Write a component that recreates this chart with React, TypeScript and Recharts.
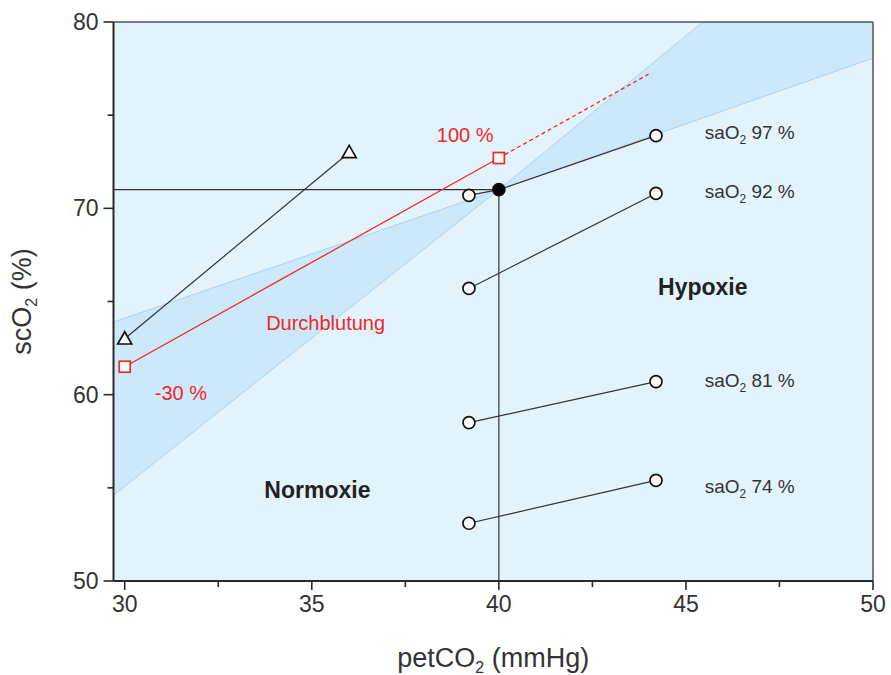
import React from 'react';
import {
  ComposedChart, XAxis, YAxis, CartesianGrid, Scatter, Area, ReferenceLine, Label,
} from 'recharts';

// ---- data ----
const xTicks = [30, 32.5, 35, 37.5, 40, 42.5, 45, 47.5, 50];
const yTicks = [50, 55, 60, 65, 70, 75, 80];
const xMajor = [30, 35, 40, 45, 50];
const yMajor = [50, 60, 70, 80];

const bandLeft = [
  { x: 29.7, band: [54.6, 63.9] },
  { x: 40, band: [71, 71] },
];
const bandRight = [
  { x: 40, band: [71, 71] },
  { x: 45.45, band: [74.85, 80] },
  { x: 50, band: [78.06, 80] },
];

const crossH = [{ x: 29.7, y: 71 }, { x: 40, y: 71 }];
const crossV = [{ x: 40, y: 50 }, { x: 40, y: 71 }];

const triangleSeries = [{ x: 30, y: 63 }, { x: 36, y: 73 }];
const perfusionSolid = [{ x: 30, y: 61.5 }, { x: 40, y: 72.7 }];
const perfusionDashed = [{ x: 40, y: 72.7 }, { x: 44, y: 77.2 }];

const sao97 = [{ x: 39.2, y: 70.7 }, { x: 40, y: 71, filled: true }, { x: 44.2, y: 73.9 }];
const sao92 = [{ x: 39.2, y: 65.7 }, { x: 44.2, y: 70.8 }];
const sao81 = [{ x: 39.2, y: 58.5 }, { x: 44.2, y: 60.7 }];
const sao74 = [{ x: 39.2, y: 53.1 }, { x: 44.2, y: 55.4 }];

const saoLabels = [
  { x: 45.5, y: 74.05, pct: '97 %' },
  { x: 45.5, y: 70.85, pct: '92 %' },
  { x: 45.5, y: 60.75, pct: '81 %' },
  { x: 45.5, y: 55.05, pct: '74 %' },
];
const regionLabels = [
  { x: 45.45, y: 65.8, text: 'Hypoxie' },
  { x: 35.15, y: 54.9, text: 'Normoxie' },
];
const redLabels = [
  { x: 35.37, y: 63.85, text: 'Durchblutung' },
  { x: 39.1, y: 73.95, text: '100 %' },
  { x: 31.5, y: 60.1, text: '-30 %' },
];

const FONT = '"Liberation Sans", Arial, Helvetica, sans-serif';
const RED = '#f02828';
const DARK = '#2a2a2a';

const XTick = (props: any) => {
  const { x, y, payload } = props;
  const v = payload.value;
  const major = xMajor.includes(v);
  return (
    <g>
      <line x1={x} x2={x} y1={y} y2={y + (major ? 9 : 6)} stroke={DARK} strokeWidth={1.6} />
      {major && (
        <text x={x} y={y + 31} textAnchor="middle" fontSize={23} fill="#333" fontFamily={FONT}>
          {v}
        </text>
      )}
    </g>
  );
};

const YTick = (props: any) => {
  const { x, y, payload } = props;
  const v = payload.value;
  const major = yMajor.includes(v);
  return (
    <g>
      <line x1={x} x2={x - (major ? 10 : 6)} y1={y} y2={y} stroke={DARK} strokeWidth={1.6} />
      {major && (
        <text x={x - 15} y={y + 8} textAnchor="end" fontSize={23} fill="#333" fontFamily={FONT}>
          {v}
        </text>
      )}
    </g>
  );
};

const XTitle = (props: any) => {
  const { viewBox } = props;
  const cx = viewBox.x + viewBox.width / 2;
  return (
    <text x={cx} y={viewBox.y + 86} textAnchor="middle" fontSize={27} fill="#333" fontFamily={FONT}>
      <tspan>petCO</tspan>
      <tspan dy={6} fontSize={16}>2</tspan>
      <tspan dy={-6}> (mmHg)</tspan>
    </text>
  );
};

const YTitle = (props: any) => {
  const { viewBox } = props;
  const cy = viewBox.y + viewBox.height / 2;
  const cx = 31;
  return (
    <text
      x={cx}
      y={cy}
      transform={`rotate(-90 ${cx} ${cy})`}
      textAnchor="middle"
      fontSize={27}
      fill="#333"
      fontFamily={FONT}
    >
      <tspan>scO</tspan>
      <tspan dy={6} fontSize={16}>2</tspan>
      <tspan dy={-6}> (%)</tspan>
    </text>
  );
};

const circleShape = (props: any) => {
  const { cx, cy, payload } = props;
  return (
    <circle cx={cx} cy={cy} r={6} fill={payload && payload.filled ? '#000' : '#fff'} stroke="#111" strokeWidth={1.7} />
  );
};
const triangleShape = (props: any) => {
  const { cx, cy } = props;
  const s = 7;
  return (
    <polygon
      points={`${cx},${cy - s} ${cx - s},${cy + s * 0.75} ${cx + s},${cy + s * 0.75}`}
      fill="#fff"
      stroke="#111"
      strokeWidth={1.7}
    />
  );
};
const squareShape = (props: any) => {
  const { cx, cy } = props;
  return <rect x={cx - 5.5} y={cy - 5.5} width={11} height={11} fill="#fff" stroke={RED} strokeWidth={1.7} />;
};
const noShape = () => <g />;

const saoLabelShape = (props: any) => {
  const { cx, cy, payload } = props;
  return (
    <text x={cx} y={cy + 6} fontSize={19} fill="#333" fontFamily={FONT}>
      <tspan>saO</tspan>
      <tspan dy={5} fontSize={12}>2</tspan>
      <tspan dy={-5}>{' ' + payload.pct}</tspan>
    </text>
  );
};
const regionLabelShape = (props: any) => {
  const { cx, cy, payload } = props;
  return (
    <text x={cx} y={cy + 8} textAnchor="middle" fontSize={23} fontWeight="bold" fill="#222" fontFamily={FONT}>
      {payload.text}
    </text>
  );
};
const redLabelShape = (props: any) => {
  const { cx, cy, payload } = props;
  return (
    <text x={cx} y={cy + 7} textAnchor="middle" fontSize={20} fill={RED} fontFamily={FONT}>
      {payload.text}
    </text>
  );
};

export default function App() {
  return (
    <div style={{ fontFamily: FONT, position: 'absolute', left: 0, top: 0, width: 891, height: 675, overflow: 'hidden' }}>
      <ComposedChart
        width={891}
        height={675}
        margin={{ top: 22, right: 18, left: 43.5, bottom: 34 }}
      >
        <CartesianGrid fill="#e3f3fc" stroke="none" />
        <XAxis
          type="number"
          dataKey="x"
          domain={[29.7, 50]}
          ticks={xTicks}
          allowDataOverflow
          height={60}
          tick={<XTick />}
          tickLine={false}
          tickSize={0}
          tickMargin={0}
          axisLine={{ stroke: DARK, strokeWidth: 2 }}
          interval={0}
        >
          <Label content={<XTitle />} />
        </XAxis>
        <YAxis
          type="number"
          dataKey="y"
          domain={[50, 80]}
          ticks={yTicks}
          allowDataOverflow
          width={70}
          tick={<YTick />}
          tickLine={false}
          tickSize={0}
          tickMargin={0}
          axisLine={{ stroke: DARK, strokeWidth: 2 }}
          interval={0}
        >
          <Label content={<YTitle />} />
        </YAxis>

        <Area
          data={bandLeft}
          dataKey="band"
          type="linear"
          fill="#cde8f9"
          fillOpacity={1}
          stroke="#aed2f0"
          strokeWidth={1}
          isAnimationActive={false}
          dot={false}
          activeDot={false}
        />
        <Area
          data={bandRight}
          dataKey="band"
          type="linear"
          fill="#cde8f9"
          fillOpacity={1}
          stroke="#aed2f0"
          strokeWidth={1}
          isAnimationActive={false}
          dot={false}
          activeDot={false}
        />

        <ReferenceLine y={80} stroke="#555" strokeWidth={1.5} />
        <ReferenceLine x={50} stroke="#555" strokeWidth={1.5} />

        <Scatter data={crossH} line={{ stroke: '#333', strokeWidth: 1.2 }} shape={noShape} isAnimationActive={false} />
        <Scatter data={crossV} line={{ stroke: '#333', strokeWidth: 1.2 }} shape={noShape} isAnimationActive={false} />

        <Scatter data={triangleSeries} line={{ stroke: '#333', strokeWidth: 1.2 }} shape={triangleShape} isAnimationActive={false} />
        <Scatter data={perfusionDashed} line={{ stroke: RED, strokeWidth: 1.3, strokeDasharray: '4 3' }} shape={noShape} isAnimationActive={false} />
        <Scatter data={perfusionSolid} line={{ stroke: RED, strokeWidth: 1.3 }} shape={squareShape} isAnimationActive={false} />

        <Scatter data={sao97} line={{ stroke: '#333', strokeWidth: 1.2 }} shape={circleShape} isAnimationActive={false} />
        <Scatter data={sao92} line={{ stroke: '#333', strokeWidth: 1.2 }} shape={circleShape} isAnimationActive={false} />
        <Scatter data={sao81} line={{ stroke: '#333', strokeWidth: 1.2 }} shape={circleShape} isAnimationActive={false} />
        <Scatter data={sao74} line={{ stroke: '#333', strokeWidth: 1.2 }} shape={circleShape} isAnimationActive={false} />

        <Scatter data={saoLabels} shape={saoLabelShape} isAnimationActive={false} />
        <Scatter data={regionLabels} shape={regionLabelShape} isAnimationActive={false} />
        <Scatter data={redLabels} shape={redLabelShape} isAnimationActive={false} />
      </ComposedChart>
    </div>
  );
}
